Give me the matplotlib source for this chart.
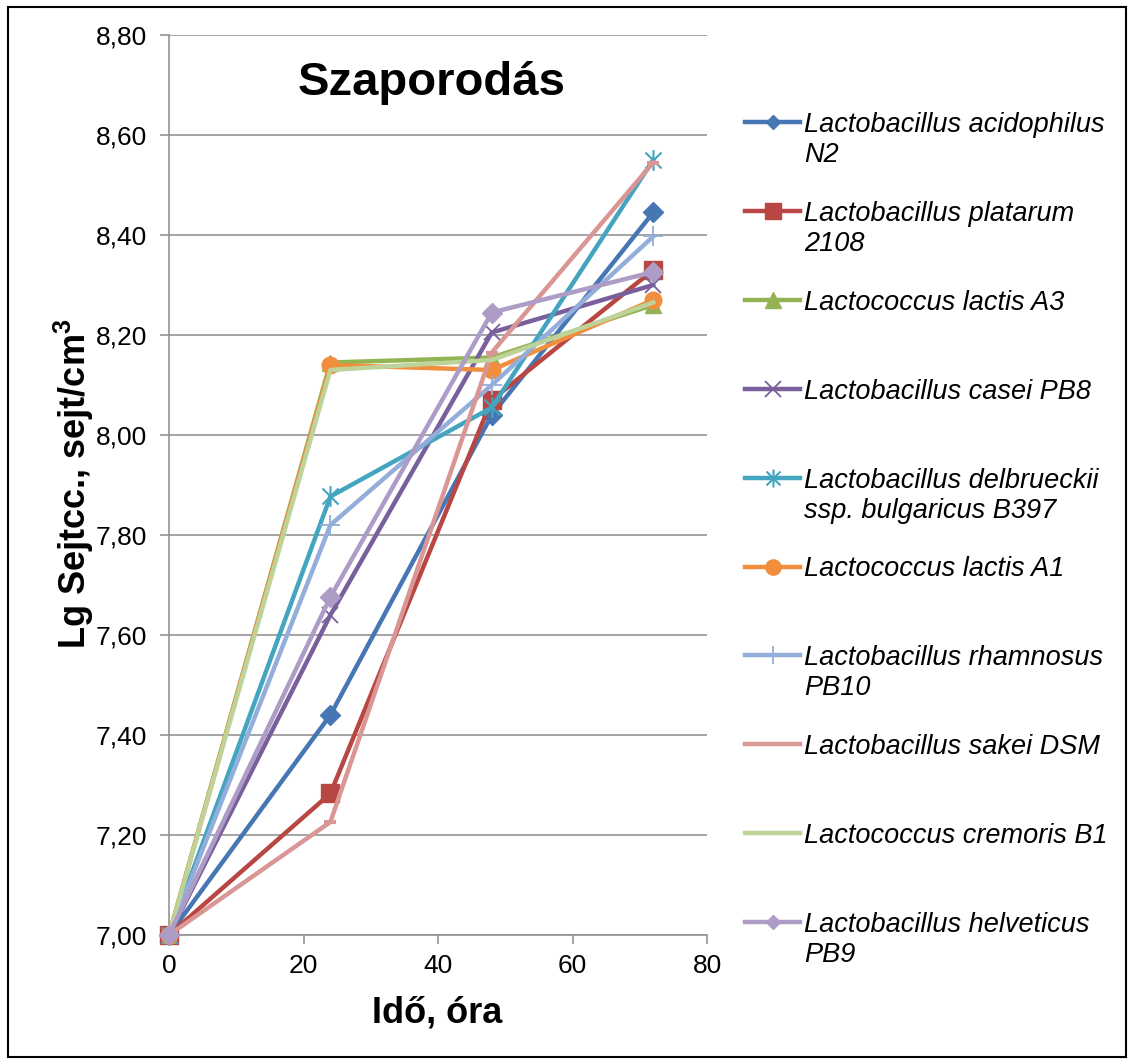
import numpy as np
import matplotlib
matplotlib.use("Agg")
import matplotlib.pyplot as plt
from matplotlib import ticker
from matplotlib.lines import Line2D
from matplotlib.patches import Rectangle
from matplotlib.path import Path

plt.rcParams['font.family'] = ['Liberation Sans', 'DejaVu Sans']
plt.rcParams['mathtext.fontset'] = 'custom'
plt.rcParams['mathtext.rm'] = 'Liberation Sans'
plt.rcParams['mathtext.bf'] = 'Liberation Sans:bold'

# time points (hours) and log cell counts
hours = [0, 24, 48, 72]

acidophilus_n2 = [7.00, 7.44, 8.04, 8.445]
plantarum_2108 = [7.00, 7.283, 8.07, 8.33]
lactis_a3 = [7.00, 8.145, 8.155, 8.26]
casei_pb8 = [7.00, 7.64, 8.205, 8.30]
delbrueckii_b397 = [7.00, 7.877, 8.055, 8.55]
lactis_a1 = [7.00, 8.14, 8.13, 8.27]
rhamnosus_pb10 = [7.00, 7.82, 8.10, 8.397]
sakei_dsm = [7.00, 7.226, 8.165, 8.545]
cremoris_b1 = [7.00, 8.13, 8.15, 8.265]
helveticus_pb9 = [7.00, 7.676, 8.245, 8.326]

labels = ["Lactobacillus acidophilus\nN2",
          "Lactobacillus platarum\n2108",
          "Lactococcus lactis A3",
          "Lactobacillus casei PB8",
          "Lactobacillus delbrueckii\nssp. bulgaricus B397",
          "Lactococcus lactis A1",
          "Lactobacillus rhamnosus\nPB10",
          "Lactobacillus sakei DSM",
          "Lactococcus cremoris B1",
          "Lactobacillus helveticus\nPB9"]

series = [acidophilus_n2, plantarum_2108, lactis_a3, casei_pb8, delbrueckii_b397,
          lactis_a1, rhamnosus_pb10, sakei_dsm, cremoris_b1, helveticus_pb9]

colors = ['#4676B4', '#B84744', '#93B452', '#79609C', '#43A5BF',
          '#F08E3E', '#93AEDA', '#D99694', '#BDD39A', '#AC9CC6']

# excel style asterisk: x plus a vertical bar
star = Path([(-1, -1), (1, 1), (-1, 1), (1, -1), (0, -1.3), (0, 1.3)],
            [Path.MOVETO, Path.LINETO] * 3)

# marker, size, edge width, legend size
markers = [('D', 10, 1, 7), ('s', 13, 1, 12), ('^', 12, 1, 11), ('x', 12, 1.3, 11),
           (star, 15, 1.5, 13), ('o', 12, 1, 11), ('+', 15, 1.3, 13), ('_', 9, 3, 0),
           (None, 0, 0, 0), ('D', 10, 1, 7)]

W, H = 1132, 1062
fig = plt.figure(figsize=(W / 100, H / 100), dpi=100)
ax = fig.add_axes([169 / W, 1 - 935 / H, 538 / W, 900 / H])

for i, (vals, col, (m, ms, mew, _)) in enumerate(zip(series, colors, markers)):
    ax.plot(hours, vals, color=col, lw=3.2, marker=m, ms=ms, mew=mew,
            mec=col, mfc=col, clip_on=False, zorder=3 + i)

ax.set_xlim(0, 80)
ax.set_ylim(7.0, 8.8)
ax.set_xticks(np.arange(0, 81, 20))
ax.set_yticks(np.arange(7.0, 8.81, 0.2))
ax.yaxis.set_major_formatter(ticker.FuncFormatter(lambda v, p: f"{v:.2f}".replace('.', ',')))

ax.grid(axis='y', color='#8C8C8C', lw=1.1)
ax.set_axisbelow(True)
for s in ['top', 'right']:
    ax.spines[s].set_visible(False)
for s in ['left', 'bottom']:
    ax.spines[s].set_color('#8C8C8C')
    ax.spines[s].set_linewidth(1.1)
ax.tick_params(length=6.5, width=1.1, color='#8C8C8C', labelsize=19, labelcolor='black')
ax.tick_params(axis='x', pad=7)
ax.tick_params(axis='y', pad=9)

fig.text(432 / W, 1 - 95 / H, 'Szaporodás', fontsize=34, fontweight='bold',
         ha='center', va='baseline')
fig.text(437 / W, 1 - 1023 / H, 'Idő, óra', fontsize=26, fontweight='bold',
         ha='center', va='baseline')
fig.text(86 / W, 1 - 484 / H, r'Lg Sejtcc., sejt/cm$^{\mathbf{3}}$', fontsize=26,
         fontweight='bold', rotation=90, rotation_mode='anchor', ha='center', va='baseline')

# legend drawn by hand so two-line entries keep the handle on the first line
leg_y0, leg_step, line_gap = 122, 88.9, 30
for i, (lab, col, (m, ms, mew, lms)) in enumerate(zip(labels, colors, markers)):
    ypx = leg_y0 + i * leg_step
    y = 1 - ypx / H
    fig.add_artist(Line2D([745 / W, 800 / W], [y, y], color=col, lw=3.2,
                          transform=fig.transFigure))
    if m is not None and lms > 0:
        fig.add_artist(Line2D([772.5 / W], [y], marker=m, ms=lms, mew=mew, color=col,
                              mec=col, mfc=col, transform=fig.transFigure))
    for k, part in enumerate(lab.split('\n')):
        fig.text(804 / W, 1 - (ypx + k * line_gap) / H, part, fontsize=19.5,
                 style='italic', ha='left', va='center_baseline')

fig.add_artist(Rectangle((8 / W, 1 - 1057 / H), 1118 / W, 1050 / H, fill=False,
                         ec='black', lw=1.5, transform=fig.transFigure))

fig.savefig('out.png', dpi=100)
